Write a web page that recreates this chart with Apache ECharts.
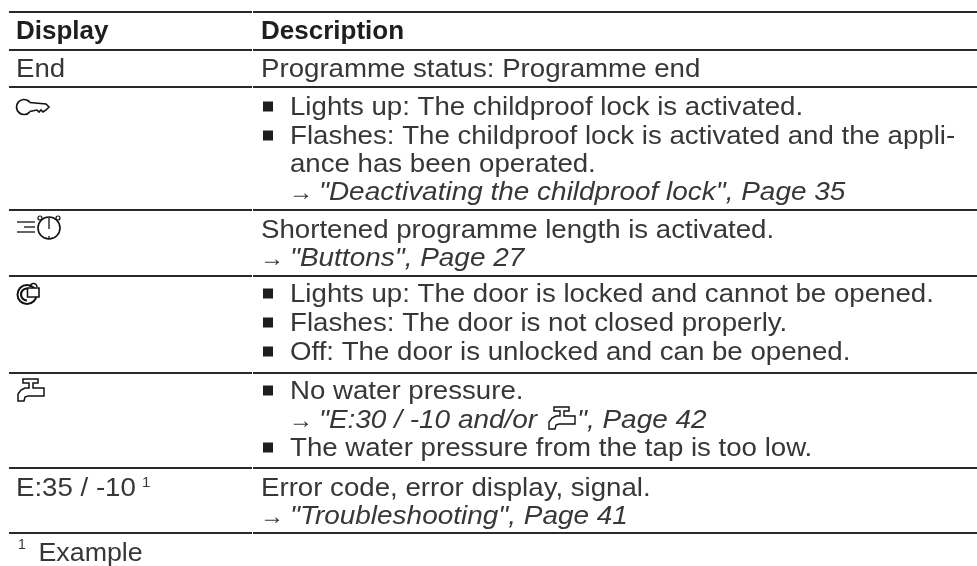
<!DOCTYPE html>
<html><head><meta charset="utf-8">
<style>html,body{margin:0;padding:0;background:#fff}#c{width:977px;height:566px}</style>
<script src="https://cdn.jsdelivr.net/npm/echarts@6/dist/echarts.min.js"></script>
</head><body><div id="c"></div>
<script>
const headers = ['Display','Description'];
const ruleYs = [12,50,87,210,276,373,468,533];
const displayTexts = [['End',69.5],['E:35 / -10',489]];
const bullets = [
 ['Lights up: The childproof lock is activated.',108],
 ['Flashes: The childproof lock is activated and the appli-',137],
 ['Lights up: The door is locked and cannot be opened.',295],
 ['Flashes: The door is not closed properly.',324],
 ['Off: The door is unlocked and can be opened.',353],
 ['No water pressure.',392],
 ['The water pressure from the tap is too low.',449]
];
const plainLines = [
 ['Programme status: Programme end',69.5,261],
 ['ance has been operated.',165,290],
 ['Shortened programme length is activated.',230.5,261],
 ['Error code, error display, signal.',489,261]
];
const refLines = [
 ['"Deactivating the childproof lock", Page 35',193,291],
 ['"Buttons", Page 27',259,262],
 ['"E:30 / -10 and/or',421,291],
 ['"Troubleshooting", Page 41',517,262]
];
const INK='#383637', DARK='#1f1d1e', FONT='Liberation Sans';
const g=[];
function T(s,x,y,o){o=o||{};g.push({type:'text',x,y,scaleX:o.sx||1.063,silent:true,style:{text:s,fill:o.fill||INK,font:(o.style||'normal')+' '+(o.weight||'normal')+' '+(o.size||26)+'px "'+FONT+'"',textAlign:'left',textVerticalAlign:'middle'}});}
ruleYs.forEach(y=>{
 g.push({type:'rect',silent:true,shape:{x:9,y:y-0.9,width:243,height:1.8},style:{fill:'#2a2829'}});
 g.push({type:'rect',silent:true,shape:{x:253,y:y-0.9,width:724,height:1.8},style:{fill:'#2a2829'}});
});
T(headers[0],16,32,{weight:'bold',sx:1,fill:DARK});
T(headers[1],261,32,{weight:'bold',sx:1,fill:DARK});
displayTexts.forEach(d=>T(d[0],16,d[1]));
T('1',142,483,{size:15,sx:1});
T('1',18,545,{size:14,sx:1});
T('Example',38.5,553.5,{sx:1.03});
bullets.forEach(b=>{
 g.push({type:'rect',silent:true,shape:{x:263,y:b[1]-6.5,width:10,height:10},style:{fill:DARK}});
 T(b[0],290,b[1]);
});
plainLines.forEach(l=>T(l[0],l[2],l[1]));
refLines.forEach(l=>{
 T('\u2192',l[2]-2,l[1],{size:24,sx:1});
 T(l[0],l[2]+28,l[1],{style:'italic',sx:1.075});
});
T('", Page 42',577,421,{style:'italic',sx:1.075});
function line(pts,lw){g.push({type:'polyline',silent:true,shape:{points:pts},style:{fill:null,stroke:'#111',lineWidth:lw||1.4}});}
function poly(pts,lw){g.push({type:'polygon',silent:true,shape:{points:pts},style:{fill:'#fff',stroke:'#111',lineWidth:lw||1.4}});}
function circ(cx,cy,r,lw,fill){g.push({type:'circle',silent:true,shape:{cx,cy,r},style:{fill:fill||null,stroke:'#111',lineWidth:lw||1.4}});}
function arc(cx,cy,r,a0,a1,lw){g.push({type:'arc',silent:true,shape:{cx,cy,r,startAngle:a0,endAngle:a1,clockwise:true},style:{fill:null,stroke:'#111',lineWidth:lw||1.4}});}
// key
arc(24,107,7.5,0.7,2*Math.PI-0.7,1.7);
line([[29.5,102.5],[46,104],[49,107],[46,110],[43,112],[41,110],[39,112],[37,110],[29.5,111.5]],1.6);
// shortened-programme clock
line([[17,222],[35,222]],1.3);line([[24,227],[35,227]],1.3);line([[17,232],[35,232]],1.3);
circ(49,228,11,1.6);
line([[49,218],[49,229]],1.3);line([[49,236],[49,239]],1.3);
circ(40,218,2,1.2,'#fff');circ(58,218,2,1.2,'#fff');
// door lock
circ(27,294.5,9.5,2);
arc(27,294.5,6,Math.PI/2,Math.PI*1.5,2.2);
arc(33.5,287,3.5,Math.PI,2*Math.PI,1.6);
poly([[27.5,288],[39,288],[39,297],[27.5,297]],1.6);
// tap
const tapPts=[[23,379],[38,379],[38,383],[33,383],[33,388],[44,388],[44,396],[28,396],[25,397],[24,401],[18,401],[18,394],[21,390],[25,388],[29,388],[29,383],[23,383]];
poly(tapPts,1.5);
poly(tapPts.map(p=>[p[0]+531,p[1]+28]),1.4);
const chart=echarts.init(document.getElementById('c'),null,{renderer:'canvas'});
chart.setOption({animation:false,backgroundColor:'#fff',graphic:{elements:g}});
</script></body></html>
